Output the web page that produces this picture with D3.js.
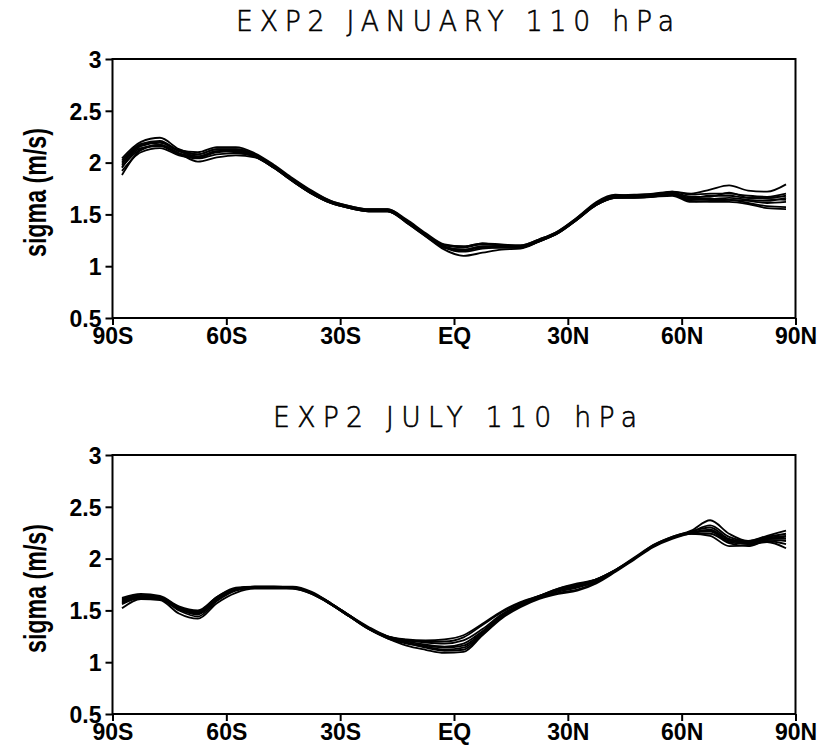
<!DOCTYPE html>
<html><head><meta charset="utf-8">
<script src="https://cdn.jsdelivr.net/npm/d3@7"></script>
<style>body{margin:0;background:#fff}svg{display:block}</style>
</head><body>
<script>
const lats = [-87.5,-82.5,-77.5,-72.5,-67.5,-62.5,-57.5,-52.5,-47.5,-42.5,-37.5,-32.5,-27.5,-22.5,-17.5,-12.5,-7.5,-2.5,2.5,7.5,12.5,17.5,22.5,27.5,32.5,37.5,42.5,47.5,52.5,57.5,62.5,67.5,72.5,77.5,82.5,87.5];
const xTickVals = [-90,-60,-30,0,30,60,90];
const xTickLabels = ["90S","60S","30S","EQ","30N","60N","90N"];
const yTickVals = [0.5,1,1.5,2,2.5,3];
const yTickLabels = ["0.5","1","1.5","2","2.5","3"];
const titles = ["EXP2 JANUARY 110 hPa","EXP2 JULY 110 hPa"];
const yLabel = "sigma (m/s)";

const jan1 = [2.04,2.20,2.24,2.13,2.08,2.13,2.13,2.08,1.97,1.84,1.72,1.63,1.58,1.55,1.55,1.44,1.31,1.20,1.19,1.22,1.21,1.20,1.26,1.34,1.47,1.62,1.69,1.68,1.69,1.72,1.70,1.74,1.78,1.73,1.72,1.79];
const jan2 = [1.88,2.12,2.17,2.09,2.01,2.05,2.07,2.05,1.95,1.82,1.70,1.61,1.56,1.53,1.53,1.42,1.29,1.16,1.10,1.13,1.16,1.17,1.24,1.32,1.45,1.59,1.66,1.66,1.67,1.68,1.62,1.63,1.64,1.61,1.58,1.57];
const jan3 = [2.00,2.17,2.20,2.12,2.10,2.15,2.15,2.09,1.98,1.85,1.73,1.63,1.58,1.55,1.55,1.45,1.32,1.21,1.19,1.22,1.20,1.20,1.26,1.34,1.47,1.61,1.68,1.69,1.70,1.72,1.69,1.70,1.70,1.68,1.67,1.70];
const jan4 = [1.95,2.14,2.16,2.08,2.05,2.10,2.11,2.06,1.95,1.82,1.70,1.61,1.56,1.53,1.53,1.42,1.29,1.18,1.15,1.18,1.18,1.18,1.24,1.32,1.45,1.59,1.66,1.67,1.68,1.69,1.64,1.64,1.64,1.63,1.61,1.62];
const jan5 = [2.02,2.18,2.21,2.11,2.06,2.11,2.12,2.07,1.96,1.83,1.71,1.62,1.57,1.54,1.54,1.43,1.30,1.19,1.16,1.19,1.19,1.19,1.25,1.33,1.46,1.60,1.67,1.67,1.68,1.71,1.67,1.67,1.71,1.66,1.65,1.64];
const jan6 = [1.92,2.10,2.14,2.07,2.04,2.08,2.09,2.06,1.96,1.83,1.71,1.62,1.57,1.54,1.54,1.43,1.30,1.18,1.14,1.17,1.18,1.18,1.25,1.33,1.46,1.60,1.67,1.67,1.68,1.69,1.63,1.62,1.62,1.60,1.56,1.55];
const jan7 = [1.98,2.16,2.19,2.11,2.08,2.13,2.13,2.08,1.97,1.84,1.72,1.62,1.57,1.54,1.54,1.44,1.31,1.20,1.18,1.21,1.20,1.19,1.25,1.33,1.46,1.61,1.68,1.67,1.68,1.70,1.66,1.68,1.68,1.66,1.66,1.68];
const jan8 = [1.96,2.13,2.17,2.09,2.06,2.11,2.10,2.06,1.95,1.82,1.70,1.61,1.56,1.53,1.53,1.43,1.30,1.18,1.16,1.19,1.19,1.18,1.24,1.32,1.45,1.59,1.66,1.66,1.67,1.70,1.65,1.65,1.66,1.64,1.63,1.66];

const jul1 = [1.62,1.66,1.64,1.54,1.50,1.63,1.72,1.73,1.73,1.73,1.68,1.57,1.45,1.33,1.25,1.22,1.21,1.22,1.26,1.37,1.49,1.58,1.64,1.71,1.76,1.80,1.89,2.01,2.13,2.21,2.27,2.37,2.24,2.17,2.22,2.27];
const jul2 = [1.52,1.61,1.60,1.47,1.42,1.57,1.67,1.71,1.71,1.71,1.66,1.56,1.44,1.32,1.23,1.16,1.12,1.09,1.10,1.26,1.42,1.53,1.61,1.66,1.69,1.76,1.87,1.99,2.11,2.19,2.24,2.22,2.12,2.13,2.16,2.10];
const jul3 = [1.60,1.64,1.63,1.53,1.49,1.63,1.71,1.73,1.73,1.72,1.67,1.57,1.45,1.34,1.25,1.21,1.19,1.18,1.21,1.32,1.46,1.56,1.64,1.71,1.75,1.80,1.89,2.00,2.12,2.20,2.26,2.30,2.19,2.16,2.20,2.22];
const jul4 = [1.56,1.62,1.61,1.51,1.46,1.60,1.70,1.72,1.72,1.72,1.67,1.56,1.44,1.32,1.23,1.18,1.15,1.12,1.14,1.28,1.44,1.54,1.62,1.68,1.72,1.78,1.88,2.00,2.12,2.20,2.25,2.26,2.16,2.14,2.18,2.17];
const jul5 = [1.59,1.63,1.62,1.52,1.48,1.62,1.70,1.72,1.72,1.72,1.67,1.57,1.45,1.33,1.24,1.20,1.17,1.15,1.18,1.30,1.45,1.55,1.63,1.70,1.74,1.79,1.88,2.00,2.12,2.20,2.25,2.28,2.18,2.15,2.19,2.21];
const jul6 = [1.57,1.62,1.61,1.50,1.44,1.59,1.69,1.72,1.72,1.71,1.66,1.56,1.44,1.32,1.24,1.19,1.14,1.11,1.12,1.27,1.43,1.55,1.62,1.67,1.70,1.77,1.88,2.00,2.12,2.20,2.24,2.24,2.15,2.12,2.17,2.14];
const jul7 = [1.61,1.65,1.63,1.53,1.49,1.62,1.71,1.73,1.73,1.72,1.67,1.57,1.45,1.33,1.25,1.21,1.20,1.20,1.24,1.36,1.48,1.57,1.64,1.70,1.74,1.80,1.89,2.00,2.13,2.21,2.26,2.32,2.21,2.17,2.21,2.24];
const jul8 = [1.58,1.63,1.62,1.52,1.47,1.61,1.70,1.72,1.72,1.72,1.67,1.56,1.44,1.33,1.24,1.19,1.16,1.14,1.16,1.29,1.45,1.55,1.63,1.69,1.73,1.79,1.88,2.00,2.12,2.20,2.25,2.27,2.17,2.15,2.19,2.19];

const panelsData = [
  [jan1,jan2,jan3,jan4,jan5,jan6,jan7,jan8],
  [jul1,jul2,jul3,jul4,jul5,jul6,jul7,jul8]
];

const W = 818, H = 749;
const svg = d3.select("body").append("svg").attr("width", W).attr("height", H);

const panels = [
  {top: 59, bottom: 318, titleY: 31, titleLen: 438},
  {top: 455, bottom: 714, titleY: 427, titleLen: 364}
];
const left = 112.5, right = 795.5;
const tickFont = "'Liberation Sans', Arial, sans-serif";
const labelFont = "'Liberation Sans Narrow', 'Liberation Sans', Arial, sans-serif";
const titleSX = 0.92;

panels.forEach((p, i) => {
  const x = d3.scaleLinear().domain([-90, 90]).range([left, right]);
  const y = d3.scaleLinear().domain([0.5, 3]).range([p.bottom, p.top]);
  const g = svg.append("g");

  // title
  g.append("g")
    .attr("transform", `translate(${(left + right) / 2 + 1},${p.titleY}) scale(${titleSX},1)`)
    .append("text")
    .attr("x", 0).attr("y", 0)
    .attr("text-anchor", "middle")
    .attr("textLength", p.titleLen / titleSX)
    .attr("lengthAdjust", "spacing")
    .style("font-family", "'DejaVu Sans', sans-serif")
    .style("font-weight", 200)
    .style("font-size", "29px")
    .attr("fill", "#000")
    .attr("stroke", "#000")
    .attr("stroke-width", 0.6)
    .text(titles[i]);

  // lines
  const line = d3.line()
    .x((d, k) => x(lats[k]))
    .y(d => y(d))
    .curve(d3.curveMonotoneX);
  g.append("g").selectAll("path")
    .data(panelsData[i])
    .join("path")
    .attr("d", line)
    .attr("fill", "none")
    .attr("stroke", "#000")
    .attr("stroke-width", 1.8);

  // axes
  const xAxis = d3.axisBottom(x).tickValues(xTickVals)
    .tickFormat((d, k) => xTickLabels[k]).tickSize(7).tickPadding(3);
  const gx = g.append("g").attr("transform", `translate(0,${p.bottom})`).call(xAxis);
  const yAxis = d3.axisLeft(y).tickValues(yTickVals)
    .tickFormat((d, k) => yTickLabels[k]).tickSize(7).tickPadding(4);
  const gy = g.append("g").attr("transform", `translate(${left},0)`).call(yAxis);
  [gx, gy].forEach(ga => {
    ga.select(".domain").remove();
    ga.selectAll(".tick line").attr("stroke", "#000").attr("stroke-width", 2);
    ga.selectAll(".tick text")
      .style("font-family", tickFont)
      .style("font-weight", "bold")
      .style("font-size", "23px")
      .attr("fill", "#000");
  });
  gy.selectAll(".tick text").attr("dy", "0.36em");

  // frame
  g.append("rect")
    .attr("x", left).attr("y", p.top)
    .attr("width", right - left).attr("height", p.bottom - p.top)
    .attr("fill", "none").attr("stroke", "#000").attr("stroke-width", 2);

  // y label
  g.append("text")
    .attr("transform", `translate(46,${(p.top + p.bottom) / 2 + 4}) rotate(-90)`)
    .attr("text-anchor", "middle")
    .attr("textLength", 129)
    .attr("lengthAdjust", "spacingAndGlyphs")
    .style("font-family", labelFont)
    .style("font-weight", "bold")
    .style("font-size", "31px")
    .attr("fill", "#000")
    .text(yLabel);
});
</script>
</body></html>
